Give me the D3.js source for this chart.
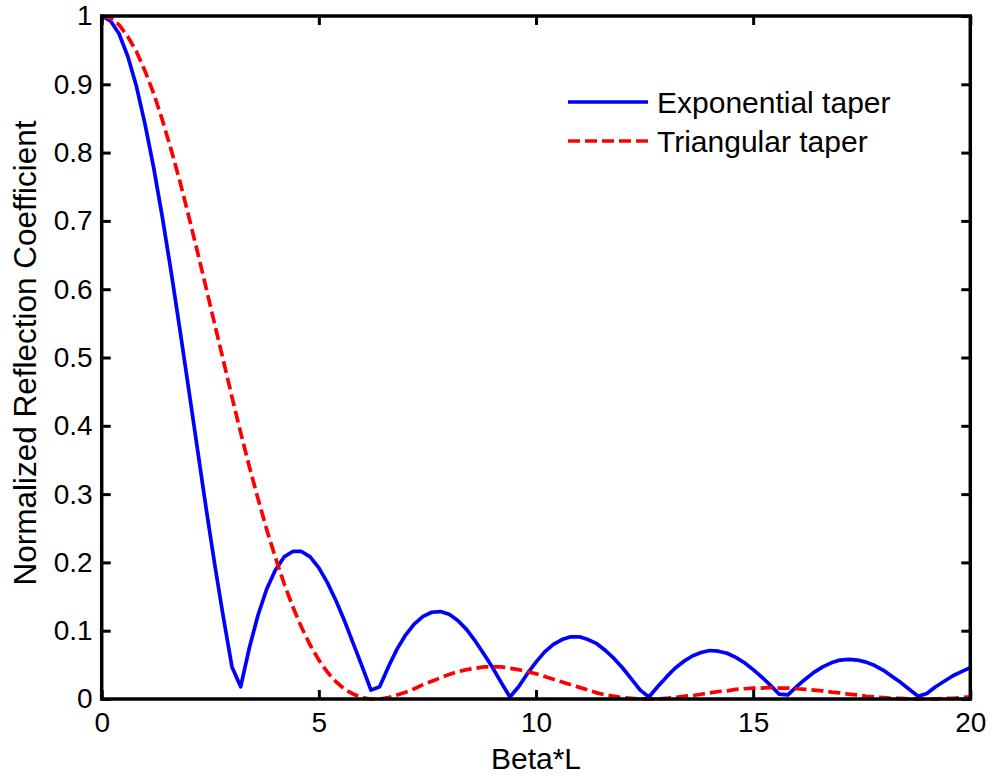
<!DOCTYPE html>
<html>
<head>
<meta charset="utf-8">
<script src="https://cdn.jsdelivr.net/npm/d3@7"></script>
<style>
  body { margin: 0; background: #fff; }
  svg { display: block; font-family: "Liberation Sans", Arial, sans-serif; }
</style>
</head>
<body>
<script>
// sample positions (Beta*L)
var betaL = [0, 0.2, 0.4, 0.6, 0.8, 1.0, 1.2, 1.4, 1.6, 1.8, 2.0, 2.2, 2.4, 2.6, 2.8, 3.0, 3.2, 3.4, 3.6, 3.8,
  4.0, 4.2, 4.4, 4.6, 4.8, 5.0, 5.2, 5.4, 5.6, 5.8, 6.0, 6.2, 6.4, 6.6, 6.8, 7.0, 7.2, 7.4, 7.6, 7.8,
  8.0, 8.2, 8.4, 8.6, 8.8, 9.0, 9.2, 9.4, 9.6, 9.8, 10.0, 10.2, 10.4, 10.6, 10.8, 11.0, 11.2, 11.4, 11.6, 11.8,
  12.0, 12.2, 12.4, 12.6, 12.8, 13.0, 13.2, 13.4, 13.6, 13.8, 14.0, 14.2, 14.4, 14.6, 14.8, 15.0, 15.2, 15.4, 15.6, 15.8,
  16.0, 16.2, 16.4, 16.6, 16.8, 17.0, 17.2, 17.4, 17.6, 17.8, 18.0, 18.2, 18.4, 18.6, 18.8, 19.0, 19.2, 19.4, 19.6, 19.8, 20.0];

// exponential taper (blue, solid)
var expTaper = [1.000, 0.993, 0.974, 0.941, 0.897, 0.841, 0.777, 0.704, 0.625, 0.541, 0.455, 0.368, 0.281, 0.198, 0.120, 0.047, 0.018, 0.075, 0.123, 0.161,
  0.189, 0.208, 0.216, 0.216, 0.208, 0.192, 0.170, 0.143, 0.113, 0.080, 0.047, 0.013, 0.018, 0.047, 0.073, 0.094, 0.110, 0.121, 0.127, 0.128,
  0.124, 0.115, 0.102, 0.085, 0.066, 0.046, 0.024, 0.003, 0.018, 0.037, 0.054, 0.069, 0.080, 0.087, 0.091, 0.091, 0.087, 0.081, 0.071, 0.059,
  0.045, 0.029, 0.013, 0.003, 0.018, 0.032, 0.045, 0.055, 0.063, 0.068, 0.071, 0.070, 0.067, 0.061, 0.053, 0.043, 0.032, 0.020, 0.007, 0.006,
  0.018, 0.029, 0.039, 0.047, 0.053, 0.057, 0.058, 0.057, 0.054, 0.049, 0.042, 0.033, 0.024, 0.014, 0.004, 0.008, 0.018, 0.026, 0.034, 0.040, 0.046];

// triangular taper (red, dashed)
var triTaper = [1.000, 0.997, 0.987, 0.970, 0.948, 0.919, 0.886, 0.847, 0.804, 0.758, 0.708, 0.656, 0.603, 0.549, 0.496, 0.442, 0.390, 0.340, 0.293, 0.248,
  0.207, 0.169, 0.135, 0.105, 0.079, 0.057, 0.039, 0.025, 0.014, 0.007, 0.002, 0.000, 0.000, 0.002, 0.006, 0.010, 0.015, 0.021, 0.026, 0.031,
  0.036, 0.040, 0.043, 0.045, 0.047, 0.047, 0.047, 0.045, 0.043, 0.040, 0.037, 0.033, 0.029, 0.025, 0.021, 0.017, 0.013, 0.009, 0.006, 0.004,
  0.002, 0.001, 0.000, 0.000, 0.000, 0.001, 0.002, 0.004, 0.005, 0.007, 0.009, 0.011, 0.012, 0.014, 0.015, 0.016, 0.016, 0.017, 0.016, 0.016,
  0.015, 0.014, 0.013, 0.012, 0.010, 0.009, 0.007, 0.006, 0.004, 0.003, 0.002, 0.001, 0.001, 0.000, 0.000, 0.000, 0.000, 0.001, 0.001, 0.002, 0.003];

var xTicks = [0, 5, 10, 15, 20];
var yTicks = [0, 0.1, 0.2, 0.3, 0.4, 0.5, 0.6, 0.7, 0.8, 0.9, 1];
var legendLabels = ["Exponential taper", "Triangular taper"];

var breedte = 990, hoogte = 782;
var links = 101.7, rechts = 970.3, boven = 16, beneden = 699;
var tickFont = 28, titelFont = 30;

var svg = d3.select("body").append("svg")
  .attr("width", breedte)
  .attr("height", hoogte);

var x = d3.scaleLinear().domain([0, 20]).range([links, rechts]);
var y = d3.scaleLinear().domain([0, 1]).range([beneden, boven]);

// lines first, axes box on top
var lijn = d3.line()
  .x(function(d, i) { return x(betaL[i]); })
  .y(function(d) { return y(d); });

svg.append("path")
  .datum(expTaper)
  .attr("d", lijn)
  .attr("fill", "none")
  .attr("stroke", "#0000ff")
  .attr("stroke-width", 3.7)
  .attr("stroke-linejoin", "round");

svg.append("path")
  .datum(triTaper)
  .attr("d", lijn)
  .attr("fill", "none")
  .attr("stroke", "#ff0000")
  .attr("stroke-width", 3.7)
  .attr("stroke-dasharray", "12,5");

var tick = 9;

// bottom axis with labels
var asX = svg.append("g")
  .attr("transform", "translate(0," + beneden + ")")
  .call(d3.axisBottom(x).tickValues(xTicks).tickSizeInner(-tick).tickSizeOuter(0).tickPadding(13)
    .tickFormat(d3.format("d")));
// top axis, ticks only
var asXboven = svg.append("g")
  .attr("transform", "translate(0," + boven + ")")
  .call(d3.axisTop(x).tickValues(xTicks).tickSizeInner(-tick).tickSizeOuter(0).tickFormat(""));
// left axis with labels
var asY = svg.append("g")
  .attr("transform", "translate(" + links + ",0)")
  .call(d3.axisLeft(y).tickValues(yTicks).tickSizeInner(-tick).tickSizeOuter(0).tickPadding(9)
    .tickFormat(function(d) { return d === 0 || d === 1 ? String(d) : d3.format(".1f")(d); }));
// right axis, ticks only
var asYrechts = svg.append("g")
  .attr("transform", "translate(" + rechts + ",0)")
  .call(d3.axisRight(y).tickValues(yTicks).tickSizeInner(-tick).tickSizeOuter(0).tickFormat(""));

[asX, asXboven, asY, asYrechts].forEach(function(g) {
  g.select(".domain").remove();
  g.selectAll(".tick line").attr("stroke", "#000").attr("stroke-width", 3);
  g.selectAll(".tick text")
    .attr("fill", "#000")
    .style("font-size", tickFont + "px")
    .style("font-family", "'Liberation Sans', Arial, sans-serif");
});

// box
svg.append("rect")
  .attr("x", links)
  .attr("y", boven)
  .attr("width", rechts - links)
  .attr("height", beneden - boven)
  .attr("fill", "none")
  .attr("stroke", "#000")
  .attr("stroke-width", 3.5);

// axis titles
svg.append("text")
  .attr("x", (links + rechts) / 2)
  .attr("y", 769)
  .attr("text-anchor", "middle")
  .style("font-size", titelFont + "px")
  .text("Beta*L");

svg.append("text")
  .attr("transform", "rotate(-90)")
  .attr("x", -353)
  .attr("y", 36)
  .attr("text-anchor", "middle")
  .style("font-size", "31.5px")
  .text("Normalized Reflection Coefficient");

// legend
var legend = svg.append("g");
var legendY = [102, 141];
var stijlen = [{ kleur: "#0000ff", dash: null }, { kleur: "#ff0000", dash: "12,5" }];
legendLabels.forEach(function(label, i) {
  legend.append("line")
    .attr("x1", 568).attr("x2", 648)
    .attr("y1", legendY[i]).attr("y2", legendY[i])
    .attr("stroke", stijlen[i].kleur)
    .attr("stroke-width", 3.7)
    .attr("stroke-dasharray", stijlen[i].dash);
  legend.append("text")
    .attr("x", 657)
    .attr("y", legendY[i])
    .attr("dy", "0.35em")
    .style("font-size", titelFont + "px")
    .text(label);
});
</script>
</body>
</html>
